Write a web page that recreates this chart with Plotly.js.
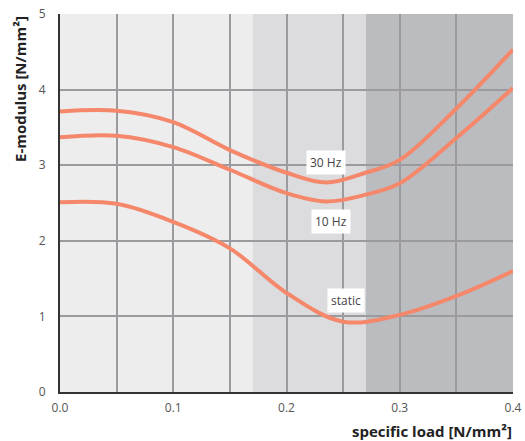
<!DOCTYPE html>
<html>
<head>
<meta charset="utf-8">
<script src="https://cdn.plot.ly/plotly-3.0.1.min.js"></script>
<style>
  html, body { margin: 0; padding: 0; background: #ffffff; }
  #chart { width: 525px; height: 441px; }
</style>
</head>
<body>
<div id="chart"></div>
<script>
// Specific load in N/mm² and E-modulus in N/mm² for each excitation.
const loadHz30 = [0, 0.05, 0.1, 0.15, 0.2, 0.235, 0.27, 0.3, 0.35, 0.4];
const modHz30  = [3.71, 3.72, 3.57, 3.20, 2.90, 2.77, 2.90, 3.07, 3.75, 4.53];

const loadHz10 = [0, 0.05, 0.1, 0.15, 0.2, 0.235, 0.27, 0.3, 0.35, 0.4];
const modHz10  = [3.37, 3.39, 3.24, 2.94, 2.63, 2.52, 2.61, 2.76, 3.36, 4.02];

const loadStatic = [0, 0.05, 0.1, 0.15, 0.2, 0.25, 0.3, 0.35, 0.4];
const modStatic  = [2.51, 2.49, 2.25, 1.90, 1.31, 0.93, 1.02, 1.27, 1.60];

// X tick positions (grid every 0.05) and their labels
const xTickVals = [0, 0.05, 0.1, 0.15, 0.2, 0.25, 0.3, 0.35, 0.4];
const xTickText = ['0.0', '', '0.1', '', '0.2', '', '0.3', '', '0.4'];
const yTickVals = [0, 1, 2, 3, 4, 5];

// Load ranges shaded behind the curves
const zoneStart = [0, 0.17, 0.27];
const zoneEnd   = [0.17, 0.27, 0.4];
const zoneColor = ['#ededed', '#dcdcde', '#bbbcc0'];

// Curve labels: text, load position, modulus position
const labelText = ['30 Hz', '10 Hz', 'static'];
const labelX    = [0.2353, 0.2393, 0.2526];
const labelY    = [3.04, 2.26, 1.21];

const xTitle = 'specific load [N/mm²]';
const yTitle = 'E-modulus [N/mm²]';

const lineColor = '#f5876b';
const gridColor = '#9b9b9f';
const titleFont = { family: 'Open Sans, sans-serif', size: 15, color: '#222222', weight: 'bold' };

function curve(x, y, name) {
  return {
    x: x, y: y, name: name, type: 'scatter', mode: 'lines',
    line: { color: lineColor, width: 4, shape: 'spline', smoothing: 1 },
    hoverinfo: 'x+y'
  };
}

const data = [
  curve(loadHz30, modHz30, '30 Hz'),
  curve(loadHz10, modHz10, '10 Hz'),
  curve(loadStatic, modStatic, 'static')
];

const shapes = zoneStart.map((s, i) => ({
  type: 'rect', xref: 'x', yref: 'paper', layer: 'below',
  x0: s, x1: zoneEnd[i], y0: 0, y1: 1,
  fillcolor: zoneColor[i], line: { width: 0 }
}));

const annotations = labelText.map((t, i) => ({
  x: labelX[i], y: labelY[i], xref: 'x', yref: 'y',
  text: t, showarrow: false,
  bgcolor: '#ffffff', borderpad: 3,
  font: { family: 'Open Sans, sans-serif', size: 12, color: '#444444' }
}));

// x-axis title, right-aligned under the plot
annotations.push({
  xref: 'paper', yref: 'paper', x: 1.003, y: -0.103,
  xanchor: 'right', yanchor: 'middle', showarrow: false,
  text: xTitle, font: titleFont
});

// y-axis title, set against the top of the axis
annotations.push({
  xref: 'paper', yref: 'paper', x: 0, xshift: -40, y: 1.0,
  xanchor: 'center', yanchor: 'top', textangle: -90, showarrow: false,
  text: yTitle, font: titleFont
});

const layout = {
  width: 525, height: 441,
  margin: { l: 60, r: 12, t: 14, b: 49 },
  paper_bgcolor: '#ffffff',
  plot_bgcolor: '#ffffff',
  showlegend: false,
  font: { family: 'Open Sans, sans-serif', size: 12, color: '#555555' },
  xaxis: {
    range: [0, 0.4], tickmode: 'array', tickvals: xTickVals, ticktext: xTickText,
    showgrid: true, gridcolor: gridColor, gridwidth: 2,
    zeroline: false, showline: true, linecolor: '#333333', linewidth: 2,
    ticks: 'outside', ticklen: 4, tickcolor: 'rgba(0,0,0,0)',
    tickfont: { size: 12, color: '#555555' }
  },
  yaxis: {
    range: [0, 5], tickmode: 'array', tickvals: yTickVals,
    showgrid: true, gridcolor: gridColor, gridwidth: 2,
    zeroline: false, showline: true, linecolor: '#333333', linewidth: 2,
    ticks: 'outside', ticklen: 10, tickcolor: 'rgba(0,0,0,0)',
    tickfont: { size: 12, color: '#555555' }
  },
  shapes: shapes,
  annotations: annotations
};

Plotly.newPlot('chart', data, layout, { displayModeBar: false, staticPlot: true });
</script>
</body>
</html>
